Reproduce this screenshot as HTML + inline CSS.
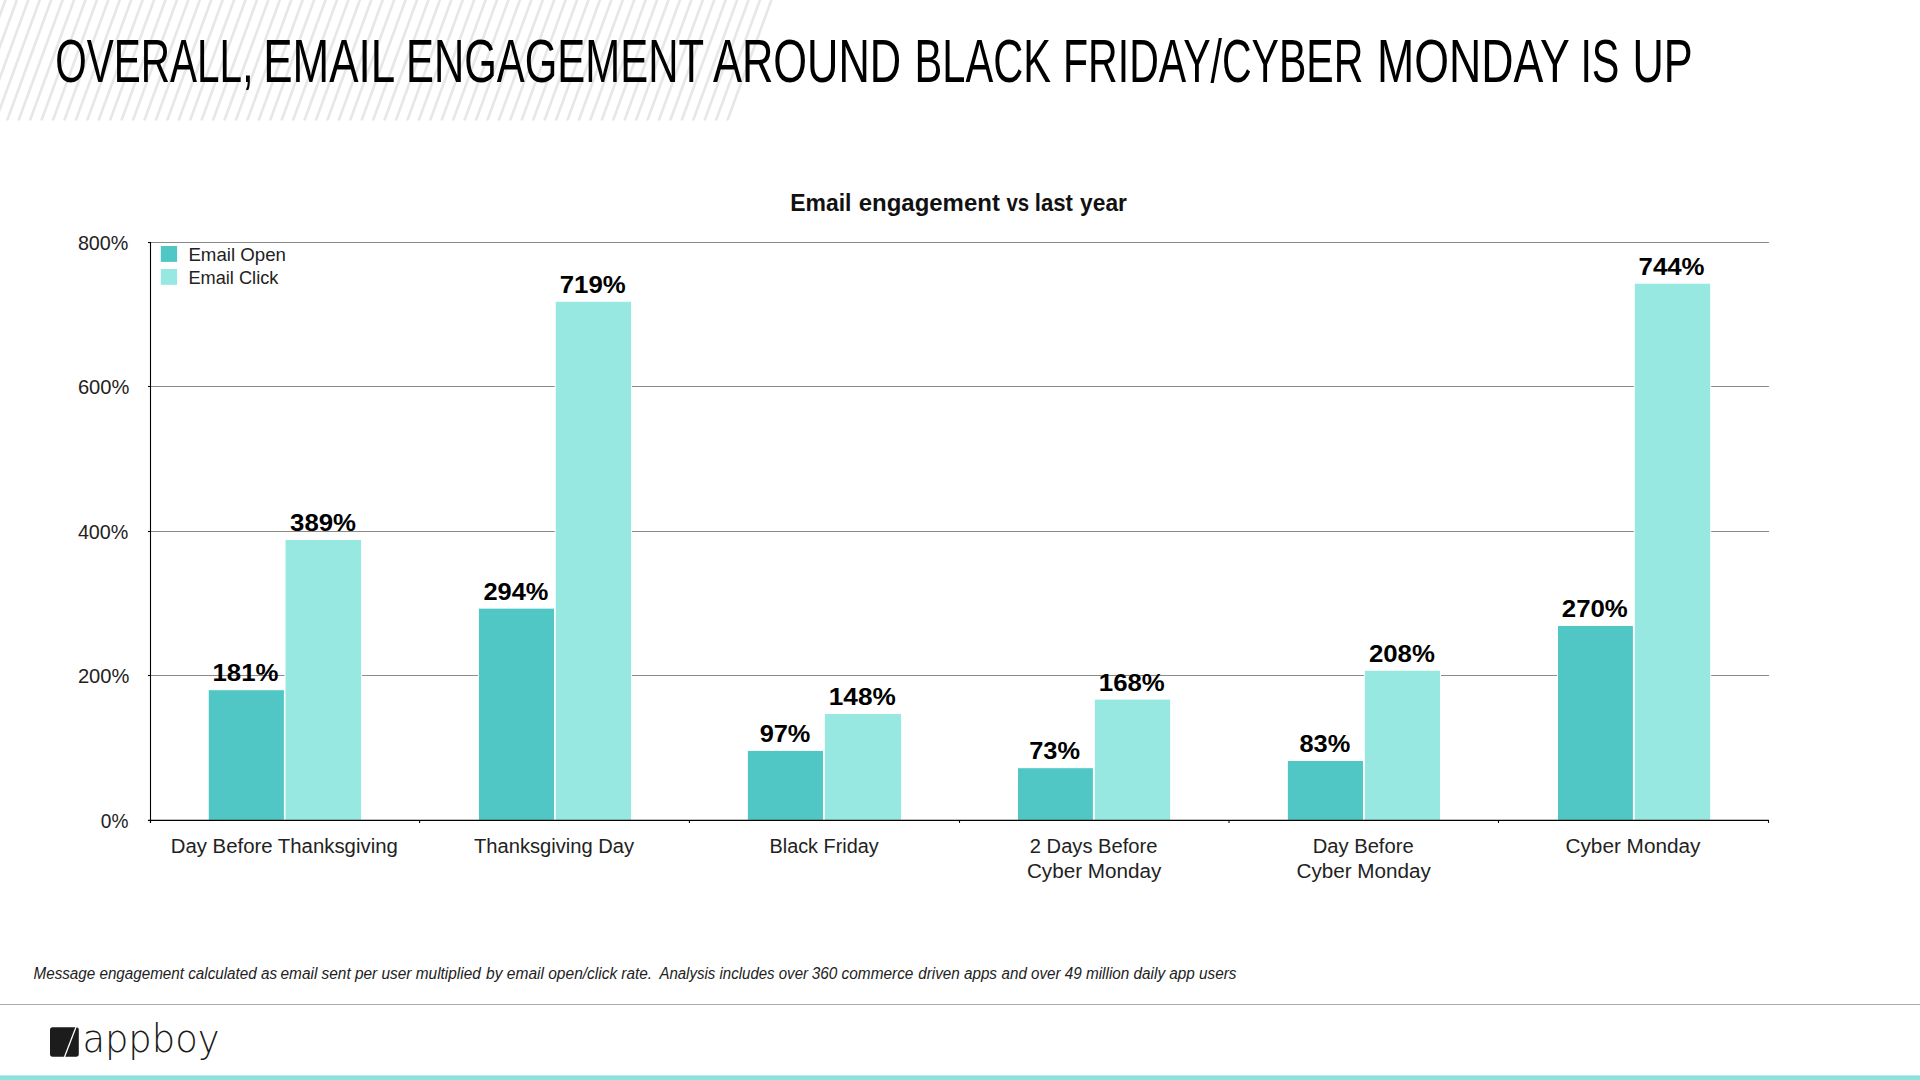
<!DOCTYPE html><html><head><meta charset="utf-8"><title>Email engagement around Black Friday / Cyber Monday</title>
<style>html,body{margin:0;padding:0;background:#fff;overflow:hidden}svg{display:block}text{white-space:pre}</style></head><body>
<svg width="1920" height="1080" viewBox="0 0 1920 1080">
<rect width="1920" height="1080" fill="#fff"/>
<defs><clipPath id="sc"><rect x="0" y="0" width="1920" height="120.4"/></clipPath></defs>
<g clip-path="url(#sc)" stroke="#e7e7e7" stroke-width="2.6">
<line x1="-50.21" y1="121" x2="-5.81" y2="-0.5"/>
<line x1="-38.78" y1="121" x2="5.62" y2="-0.5"/>
<line x1="-27.35" y1="121" x2="17.05" y2="-0.5"/>
<line x1="-15.91" y1="121" x2="28.48" y2="-0.5"/>
<line x1="-4.48" y1="121" x2="39.92" y2="-0.5"/>
<line x1="6.95" y1="121" x2="51.35" y2="-0.5"/>
<line x1="18.38" y1="121" x2="62.78" y2="-0.5"/>
<line x1="29.81" y1="121" x2="74.22" y2="-0.5"/>
<line x1="41.25" y1="121" x2="85.65" y2="-0.5"/>
<line x1="52.68" y1="121" x2="97.08" y2="-0.5"/>
<line x1="64.11" y1="121" x2="108.51" y2="-0.5"/>
<line x1="75.55" y1="121" x2="119.94" y2="-0.5"/>
<line x1="86.98" y1="121" x2="131.38" y2="-0.5"/>
<line x1="98.41" y1="121" x2="142.81" y2="-0.5"/>
<line x1="109.84" y1="121" x2="154.24" y2="-0.5"/>
<line x1="121.27" y1="121" x2="165.67" y2="-0.5"/>
<line x1="132.71" y1="121" x2="177.11" y2="-0.5"/>
<line x1="144.14" y1="121" x2="188.54" y2="-0.5"/>
<line x1="155.57" y1="121" x2="199.97" y2="-0.5"/>
<line x1="167.00" y1="121" x2="211.40" y2="-0.5"/>
<line x1="178.44" y1="121" x2="222.84" y2="-0.5"/>
<line x1="189.87" y1="121" x2="234.27" y2="-0.5"/>
<line x1="201.30" y1="121" x2="245.70" y2="-0.5"/>
<line x1="212.73" y1="121" x2="257.13" y2="-0.5"/>
<line x1="224.17" y1="121" x2="268.57" y2="-0.5"/>
<line x1="235.60" y1="121" x2="280.00" y2="-0.5"/>
<line x1="247.03" y1="121" x2="291.43" y2="-0.5"/>
<line x1="258.46" y1="121" x2="302.86" y2="-0.5"/>
<line x1="269.90" y1="121" x2="314.30" y2="-0.5"/>
<line x1="281.33" y1="121" x2="325.73" y2="-0.5"/>
<line x1="292.76" y1="121" x2="337.16" y2="-0.5"/>
<line x1="304.19" y1="121" x2="348.59" y2="-0.5"/>
<line x1="315.63" y1="121" x2="360.03" y2="-0.5"/>
<line x1="327.06" y1="121" x2="371.46" y2="-0.5"/>
<line x1="338.49" y1="121" x2="382.89" y2="-0.5"/>
<line x1="349.92" y1="121" x2="394.32" y2="-0.5"/>
<line x1="361.36" y1="121" x2="405.76" y2="-0.5"/>
<line x1="372.79" y1="121" x2="417.19" y2="-0.5"/>
<line x1="384.22" y1="121" x2="428.62" y2="-0.5"/>
<line x1="395.65" y1="121" x2="440.05" y2="-0.5"/>
<line x1="407.09" y1="121" x2="451.49" y2="-0.5"/>
<line x1="418.52" y1="121" x2="462.92" y2="-0.5"/>
<line x1="429.95" y1="121" x2="474.35" y2="-0.5"/>
<line x1="441.38" y1="121" x2="485.78" y2="-0.5"/>
<line x1="452.82" y1="121" x2="497.22" y2="-0.5"/>
<line x1="464.25" y1="121" x2="508.65" y2="-0.5"/>
<line x1="475.68" y1="121" x2="520.08" y2="-0.5"/>
<line x1="487.11" y1="121" x2="531.51" y2="-0.5"/>
<line x1="498.55" y1="121" x2="542.95" y2="-0.5"/>
<line x1="509.98" y1="121" x2="554.38" y2="-0.5"/>
<line x1="521.41" y1="121" x2="565.81" y2="-0.5"/>
<line x1="532.85" y1="121" x2="577.25" y2="-0.5"/>
<line x1="544.28" y1="121" x2="588.68" y2="-0.5"/>
<line x1="555.71" y1="121" x2="600.11" y2="-0.5"/>
<line x1="567.14" y1="121" x2="611.54" y2="-0.5"/>
<line x1="578.58" y1="121" x2="622.98" y2="-0.5"/>
<line x1="590.01" y1="121" x2="634.41" y2="-0.5"/>
<line x1="601.44" y1="121" x2="645.84" y2="-0.5"/>
<line x1="612.87" y1="121" x2="657.27" y2="-0.5"/>
<line x1="624.30" y1="121" x2="668.70" y2="-0.5"/>
<line x1="635.74" y1="121" x2="680.14" y2="-0.5"/>
<line x1="647.17" y1="121" x2="691.57" y2="-0.5"/>
<line x1="658.60" y1="121" x2="703.00" y2="-0.5"/>
<line x1="670.03" y1="121" x2="714.43" y2="-0.5"/>
<line x1="681.47" y1="121" x2="725.87" y2="-0.5"/>
<line x1="692.90" y1="121" x2="737.30" y2="-0.5"/>
<line x1="704.33" y1="121" x2="748.73" y2="-0.5"/>
<line x1="715.76" y1="121" x2="760.16" y2="-0.5"/>
<line x1="727.20" y1="121" x2="771.60" y2="-0.5"/>
</g>
<line x1="150.5" y1="675.5" x2="1768.9" y2="675.5" stroke="#8a8a8a" stroke-width="1"/>
<line x1="148" y1="675.5" x2="151" y2="675.5" stroke="#000" stroke-width="1.1"/>
<line x1="150.5" y1="531.5" x2="1768.9" y2="531.5" stroke="#8a8a8a" stroke-width="1"/>
<line x1="148" y1="531.5" x2="151" y2="531.5" stroke="#000" stroke-width="1.1"/>
<line x1="150.5" y1="386.5" x2="1768.9" y2="386.5" stroke="#8a8a8a" stroke-width="1"/>
<line x1="148" y1="386.5" x2="151" y2="386.5" stroke="#000" stroke-width="1.1"/>
<line x1="150.5" y1="242.5" x2="1768.9" y2="242.5" stroke="#8a8a8a" stroke-width="1"/>
<line x1="148" y1="242.5" x2="151" y2="242.5" stroke="#000" stroke-width="1.1"/>
<rect x="208.20" y="689.70" width="76.20" height="130.70" fill="#50c7c5" stroke="#fff" stroke-width="1.0"/>
<rect x="285.00" y="539.50" width="76.60" height="280.90" fill="#98e8e2" stroke="#fff" stroke-width="1.0"/>
<rect x="478.40" y="608.10" width="76.20" height="212.30" fill="#50c7c5" stroke="#fff" stroke-width="1.0"/>
<rect x="555.20" y="301.21" width="76.40" height="519.19" fill="#98e8e2" stroke="#fff" stroke-width="1.0"/>
<rect x="747.30" y="750.36" width="76.20" height="70.04" fill="#50c7c5" stroke="#fff" stroke-width="1.0"/>
<rect x="824.30" y="713.53" width="77.30" height="106.87" fill="#98e8e2" stroke="#fff" stroke-width="1.0"/>
<rect x="1017.50" y="767.69" width="75.90" height="52.71" fill="#50c7c5" stroke="#fff" stroke-width="1.0"/>
<rect x="1094.30" y="699.09" width="76.40" height="121.31" fill="#98e8e2" stroke="#fff" stroke-width="1.0"/>
<rect x="1287.30" y="760.47" width="76.20" height="59.93" fill="#50c7c5" stroke="#fff" stroke-width="1.0"/>
<rect x="1364.30" y="670.20" width="76.20" height="150.20" fill="#98e8e2" stroke="#fff" stroke-width="1.0"/>
<rect x="1557.50" y="625.43" width="75.90" height="194.97" fill="#50c7c5" stroke="#fff" stroke-width="1.0"/>
<rect x="1634.30" y="283.16" width="76.40" height="537.24" fill="#98e8e2" stroke="#fff" stroke-width="1.0"/>
<line x1="150.5" y1="242" x2="150.5" y2="823" stroke="#000" stroke-width="1.1"/>
<line x1="148" y1="820.4" x2="1768.9" y2="820.4" stroke="#000" stroke-width="1.3"/>
<line x1="150.50" y1="820.4" x2="150.50" y2="822.9" stroke="#000" stroke-width="1.1"/>
<line x1="419.60" y1="820.4" x2="419.60" y2="822.9" stroke="#000" stroke-width="1.1"/>
<line x1="689.40" y1="820.4" x2="689.40" y2="822.9" stroke="#000" stroke-width="1.1"/>
<line x1="959.50" y1="820.4" x2="959.50" y2="822.9" stroke="#000" stroke-width="1.1"/>
<line x1="1229.00" y1="820.4" x2="1229.00" y2="822.9" stroke="#000" stroke-width="1.1"/>
<line x1="1498.50" y1="820.4" x2="1498.50" y2="822.9" stroke="#000" stroke-width="1.1"/>
<line x1="1768.50" y1="820.4" x2="1768.50" y2="822.9" stroke="#000" stroke-width="1.1"/>
<rect x="160.8" y="246" width="16.3" height="15.9" fill="#50c7c5"/>
<rect x="160.8" y="269" width="16.3" height="15.8" fill="#98e8e2"/>
<rect x="0" y="1004" width="1920" height="1" fill="#a9adb0"/>
<rect x="0" y="1075" width="1920" height="1" fill="#b8ede8"/>
<rect x="0" y="1076" width="1920" height="1" fill="#85e1da"/>
<rect x="0" y="1077" width="1920" height="3" fill="#8be3dc"/>
<rect x="50" y="1027.2" width="28.8" height="29.5" rx="2.6" fill="#1c1c1c"/>
<line x1="76.2" y1="1026.5" x2="64.3" y2="1057.5" stroke="#fff" stroke-width="1.3"/>
<text id="tw0" x="55.20" y="82.00" textLength="198.20" lengthAdjust="spacingAndGlyphs" style="font-family:'Liberation Sans', sans-serif;font-size:61.00px;font-weight:normal;font-style:normal" fill="#000">OVERALL,</text>
<text id="tw1" x="263.20" y="82.00" textLength="132.00" lengthAdjust="spacingAndGlyphs" style="font-family:'Liberation Sans', sans-serif;font-size:61.00px;font-weight:normal;font-style:normal" fill="#000">EMAIL</text>
<text id="tw2" x="406.00" y="82.00" textLength="298.00" lengthAdjust="spacingAndGlyphs" style="font-family:'Liberation Sans', sans-serif;font-size:61.00px;font-weight:normal;font-style:normal" fill="#000">ENGAGEMENT</text>
<text id="tw3" x="713.00" y="82.00" textLength="188.20" lengthAdjust="spacingAndGlyphs" style="font-family:'Liberation Sans', sans-serif;font-size:61.00px;font-weight:normal;font-style:normal" fill="#000">AROUND</text>
<text id="tw4" x="914.60" y="82.00" textLength="136.40" lengthAdjust="spacingAndGlyphs" style="font-family:'Liberation Sans', sans-serif;font-size:61.00px;font-weight:normal;font-style:normal" fill="#000">BLACK</text>
<text id="tw5" x="1063.00" y="82.00" textLength="300.40" lengthAdjust="spacingAndGlyphs" style="font-family:'Liberation Sans', sans-serif;font-size:61.00px;font-weight:normal;font-style:normal" fill="#000">FRIDAY/CYBER</text>
<text id="tw6" x="1377.00" y="82.00" textLength="192.80" lengthAdjust="spacingAndGlyphs" style="font-family:'Liberation Sans', sans-serif;font-size:61.00px;font-weight:normal;font-style:normal" fill="#000">MONDAY</text>
<text id="tw7" x="1580.40" y="82.00" textLength="39.00" lengthAdjust="spacingAndGlyphs" style="font-family:'Liberation Sans', sans-serif;font-size:61.00px;font-weight:normal;font-style:normal" fill="#000">IS</text>
<text id="tw8" x="1632.40" y="82.00" textLength="60.20" lengthAdjust="spacingAndGlyphs" style="font-family:'Liberation Sans', sans-serif;font-size:61.00px;font-weight:normal;font-style:normal" fill="#000">UP</text>
<text id="ct0" x="790.20" y="211.10" textLength="61.20" lengthAdjust="spacingAndGlyphs" style="font-family:'Liberation Sans', sans-serif;font-size:23.70px;font-weight:bold;font-style:normal" fill="#111">Email</text>
<text id="ct1" x="858.70" y="211.10" textLength="141.20" lengthAdjust="spacingAndGlyphs" style="font-family:'Liberation Sans', sans-serif;font-size:23.70px;font-weight:bold;font-style:normal" fill="#111">engagement</text>
<text id="ct2" x="1006.40" y="211.10" textLength="22.70" lengthAdjust="spacingAndGlyphs" style="font-family:'Liberation Sans', sans-serif;font-size:23.70px;font-weight:bold;font-style:normal" fill="#111">vs</text>
<text id="ct3" x="1034.80" y="211.10" textLength="38.20" lengthAdjust="spacingAndGlyphs" style="font-family:'Liberation Sans', sans-serif;font-size:23.70px;font-weight:bold;font-style:normal" fill="#111">last</text>
<text id="ct4" x="1080.10" y="211.10" textLength="46.80" lengthAdjust="spacingAndGlyphs" style="font-family:'Liberation Sans', sans-serif;font-size:23.70px;font-weight:bold;font-style:normal" fill="#111">year</text>
<text id="leg1" x="188.40" y="261.00" textLength="97.60" lengthAdjust="spacingAndGlyphs" style="font-family:'Liberation Sans', sans-serif;font-size:18.60px;font-weight:normal;font-style:normal" fill="#222">Email Open</text>
<text id="leg2" x="188.40" y="283.90" textLength="90.00" lengthAdjust="spacingAndGlyphs" style="font-family:'Liberation Sans', sans-serif;font-size:18.60px;font-weight:normal;font-style:normal" fill="#222">Email Click</text>
<text id="y0" x="100.80" y="827.70" textLength="27.60" lengthAdjust="spacingAndGlyphs" style="font-family:'Liberation Sans', sans-serif;font-size:21.00px;font-weight:normal;font-style:normal" fill="#222">0%</text>
<text id="y200" x="77.90" y="682.80" textLength="51.50" lengthAdjust="spacingAndGlyphs" style="font-family:'Liberation Sans', sans-serif;font-size:21.00px;font-weight:normal;font-style:normal" fill="#222">200%</text>
<text id="y400" x="77.90" y="538.80" textLength="50.50" lengthAdjust="spacingAndGlyphs" style="font-family:'Liberation Sans', sans-serif;font-size:21.00px;font-weight:normal;font-style:normal" fill="#222">400%</text>
<text id="y600" x="77.90" y="393.80" textLength="51.50" lengthAdjust="spacingAndGlyphs" style="font-family:'Liberation Sans', sans-serif;font-size:21.00px;font-weight:normal;font-style:normal" fill="#222">600%</text>
<text id="y800" x="77.90" y="249.80" textLength="50.50" lengthAdjust="spacingAndGlyphs" style="font-family:'Liberation Sans', sans-serif;font-size:21.00px;font-weight:normal;font-style:normal" fill="#222">800%</text>
<text id="v00" x="212.49" y="681.40" textLength="66.00" lengthAdjust="spacingAndGlyphs" style="font-family:'Liberation Sans', sans-serif;font-size:23.80px;font-weight:bold;font-style:normal" fill="#000">181%</text>
<text id="v01" x="290.09" y="531.20" textLength="66.00" lengthAdjust="spacingAndGlyphs" style="font-family:'Liberation Sans', sans-serif;font-size:23.80px;font-weight:bold;font-style:normal" fill="#000">389%</text>
<text id="v10" x="483.47" y="599.80" textLength="65.00" lengthAdjust="spacingAndGlyphs" style="font-family:'Liberation Sans', sans-serif;font-size:23.80px;font-weight:bold;font-style:normal" fill="#000">294%</text>
<text id="v11" x="559.77" y="292.91" textLength="66.00" lengthAdjust="spacingAndGlyphs" style="font-family:'Liberation Sans', sans-serif;font-size:23.80px;font-weight:bold;font-style:normal" fill="#000">719%</text>
<text id="v20" x="759.65" y="742.06" textLength="50.80" lengthAdjust="spacingAndGlyphs" style="font-family:'Liberation Sans', sans-serif;font-size:23.80px;font-weight:bold;font-style:normal" fill="#000">97%</text>
<text id="v21" x="828.80" y="705.23" textLength="67.00" lengthAdjust="spacingAndGlyphs" style="font-family:'Liberation Sans', sans-serif;font-size:23.80px;font-weight:bold;font-style:normal" fill="#000">148%</text>
<text id="v30" x="1029.18" y="759.39" textLength="50.80" lengthAdjust="spacingAndGlyphs" style="font-family:'Liberation Sans', sans-serif;font-size:23.80px;font-weight:bold;font-style:normal" fill="#000">73%</text>
<text id="v31" x="1098.83" y="690.79" textLength="66.00" lengthAdjust="spacingAndGlyphs" style="font-family:'Liberation Sans', sans-serif;font-size:23.80px;font-weight:bold;font-style:normal" fill="#000">168%</text>
<text id="v40" x="1299.41" y="752.17" textLength="50.80" lengthAdjust="spacingAndGlyphs" style="font-family:'Liberation Sans', sans-serif;font-size:23.80px;font-weight:bold;font-style:normal" fill="#000">83%</text>
<text id="v41" x="1368.91" y="661.90" textLength="66.00" lengthAdjust="spacingAndGlyphs" style="font-family:'Liberation Sans', sans-serif;font-size:23.80px;font-weight:bold;font-style:normal" fill="#000">208%</text>
<text id="v50" x="1561.84" y="617.13" textLength="66.00" lengthAdjust="spacingAndGlyphs" style="font-family:'Liberation Sans', sans-serif;font-size:23.80px;font-weight:bold;font-style:normal" fill="#000">270%</text>
<text id="v51" x="1638.59" y="274.86" textLength="66.00" lengthAdjust="spacingAndGlyphs" style="font-family:'Liberation Sans', sans-serif;font-size:23.80px;font-weight:bold;font-style:normal" fill="#000">744%</text>
<text id="c00" x="170.72" y="852.80" textLength="227.10" lengthAdjust="spacingAndGlyphs" style="font-family:'Liberation Sans', sans-serif;font-size:20.00px;font-weight:normal;font-style:normal" fill="#222">Day Before Thanksgiving</text>
<text id="c10" x="474.06" y="852.80" textLength="160.00" lengthAdjust="spacingAndGlyphs" style="font-family:'Liberation Sans', sans-serif;font-size:20.00px;font-weight:normal;font-style:normal" fill="#222">Thanksgiving Day</text>
<text id="c20" x="769.50" y="852.80" textLength="109.20" lengthAdjust="spacingAndGlyphs" style="font-family:'Liberation Sans', sans-serif;font-size:20.00px;font-weight:normal;font-style:normal" fill="#222">Black Friday</text>
<text id="c30" x="1029.84" y="852.80" textLength="127.60" lengthAdjust="spacingAndGlyphs" style="font-family:'Liberation Sans', sans-serif;font-size:20.00px;font-weight:normal;font-style:normal" fill="#222">2 Days Before</text>
<text id="c31" x="1026.94" y="877.90" textLength="134.40" lengthAdjust="spacingAndGlyphs" style="font-family:'Liberation Sans', sans-serif;font-size:20.00px;font-weight:normal;font-style:normal" fill="#222">Cyber Monday</text>
<text id="c40" x="1312.68" y="852.80" textLength="101.00" lengthAdjust="spacingAndGlyphs" style="font-family:'Liberation Sans', sans-serif;font-size:20.00px;font-weight:normal;font-style:normal" fill="#222">Day Before</text>
<text id="c41" x="1296.48" y="877.90" textLength="134.40" lengthAdjust="spacingAndGlyphs" style="font-family:'Liberation Sans', sans-serif;font-size:20.00px;font-weight:normal;font-style:normal" fill="#222">Cyber Monday</text>
<text id="c50" x="1565.52" y="852.80" textLength="134.90" lengthAdjust="spacingAndGlyphs" style="font-family:'Liberation Sans', sans-serif;font-size:20.00px;font-weight:normal;font-style:normal" fill="#222">Cyber Monday</text>
<text id="f0" x="33.50" y="979.40" textLength="243.50" lengthAdjust="spacingAndGlyphs" style="font-family:'Liberation Sans', sans-serif;font-size:15.80px;font-weight:normal;font-style:italic" fill="#222">Message engagement calculated as</text>
<text id="f1" x="280.50" y="979.40" textLength="200.30" lengthAdjust="spacingAndGlyphs" style="font-family:'Liberation Sans', sans-serif;font-size:15.80px;font-weight:normal;font-style:italic" fill="#222">email sent per user multiplied</text>
<text id="f2" x="486.10" y="979.40" textLength="131.20" lengthAdjust="spacingAndGlyphs" style="font-family:'Liberation Sans', sans-serif;font-size:15.80px;font-weight:normal;font-style:italic" fill="#222">by email open/click</text>
<text id="f3" x="621.30" y="979.40" textLength="30.70" lengthAdjust="spacingAndGlyphs" style="font-family:'Liberation Sans', sans-serif;font-size:15.80px;font-weight:normal;font-style:italic" fill="#222">rate.</text>
<text id="f4" x="659.40" y="979.40" textLength="148.60" lengthAdjust="spacingAndGlyphs" style="font-family:'Liberation Sans', sans-serif;font-size:15.80px;font-weight:normal;font-style:italic" fill="#222">Analysis includes over</text>
<text id="f5" x="811.70" y="979.40" textLength="101.70" lengthAdjust="spacingAndGlyphs" style="font-family:'Liberation Sans', sans-serif;font-size:15.80px;font-weight:normal;font-style:italic" fill="#222">360 commerce</text>
<text id="f6" x="918.20" y="979.40" textLength="78.80" lengthAdjust="spacingAndGlyphs" style="font-family:'Liberation Sans', sans-serif;font-size:15.80px;font-weight:normal;font-style:italic" fill="#222">driven apps</text>
<text id="f7" x="1001.60" y="979.40" textLength="58.90" lengthAdjust="spacingAndGlyphs" style="font-family:'Liberation Sans', sans-serif;font-size:15.80px;font-weight:normal;font-style:italic" fill="#222">and over</text>
<text id="f8" x="1064.70" y="979.40" textLength="171.80" lengthAdjust="spacingAndGlyphs" style="font-family:'Liberation Sans', sans-serif;font-size:15.80px;font-weight:normal;font-style:italic" fill="#222">49 million daily app users</text>
<text id="logo" x="82.40" y="1051.50" textLength="137.10" lengthAdjust="spacingAndGlyphs" style="font-family:'DejaVu Sans', sans-serif;font-size:38.50px;font-weight:200;font-style:normal" fill="#1a1a1a">appboy</text>
</svg></body></html>
